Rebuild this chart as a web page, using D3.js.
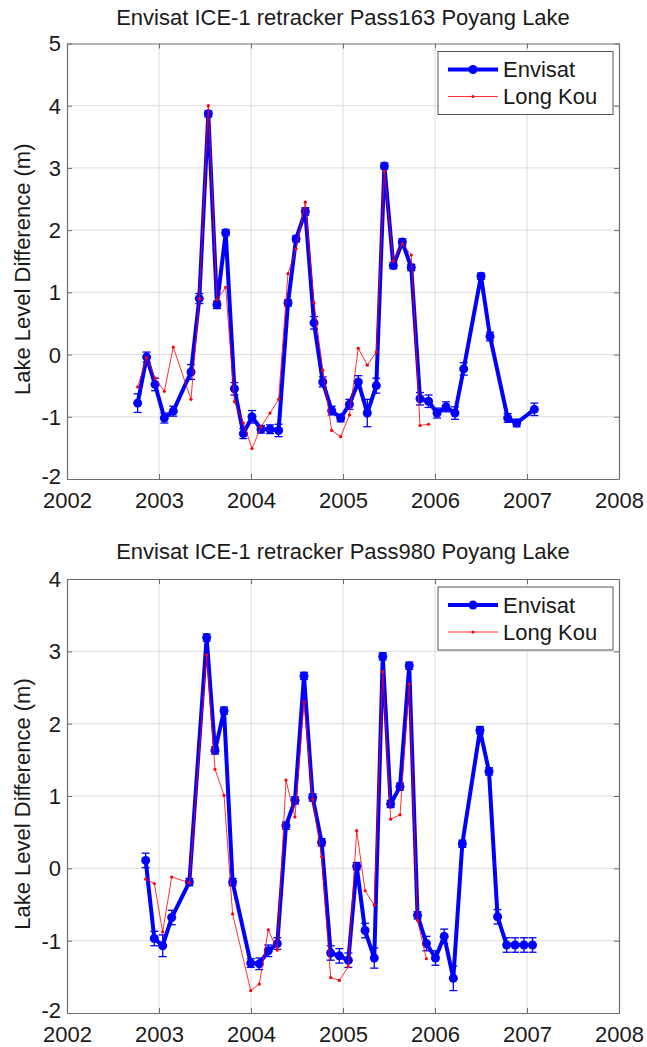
<!DOCTYPE html>
<html><head><meta charset="utf-8">
<script src="https://cdn.jsdelivr.net/npm/d3@7"></script>
<style>
body{margin:0;background:#fff;}
svg{display:block;font-family:"Liberation Sans",Arial,sans-serif;}
</style></head><body>
<svg id="c" width="647" height="1047"></svg>
<script>
// ---------- DATA ----------
const xTicks = [2002, 2003, 2004, 2005, 2006, 2007, 2008];

// Pass163
const title1 = "Envisat ICE-1 retracker Pass163 Poyang Lake";
const yTicks1 = [-2, -1, 0, 1, 2, 3, 4, 5];
const envTime1 = [2002.768, 2002.866, 2002.957, 2003.058, 2003.155, 2003.348, 2003.438, 2003.536, 2003.630, 2003.725,
  2003.820, 2003.917, 2004.011, 2004.109, 2004.207, 2004.300, 2004.402, 2004.490, 2004.590, 2004.685,
  2004.780, 2004.877, 2004.975, 2005.070, 2005.166, 2005.264, 2005.362, 2005.450, 2005.547, 2005.645,
  2005.742, 2005.837, 2005.930, 2006.022, 2006.120, 2006.217, 2006.312, 2006.500, 2006.598, 2006.790,
  2006.888, 2007.080];
const envVal1 = [-0.78, -0.04, -0.48, -1.02, -0.91, -0.28, 0.90, 3.87, 0.80, 1.96,
  -0.55, -1.27, -1.00, -1.20, -1.20, -1.22, 0.83, 1.86, 2.30, 0.51,
  -0.44, -0.90, -1.02, -0.80, -0.44, -0.94, -0.50, 3.03, 1.43, 1.81,
  1.40, -0.71, -0.75, -0.94, -0.84, -0.94, -0.23, 1.26, 0.29, -1.02,
  -1.10, -0.88];
const envErr1 = [0.15, 0.08, 0.10, 0.08, 0.08, 0.12, 0.08, 0.05, 0.06, 0.05,
  0.10, 0.08, 0.10, 0.06, 0.07, 0.10, 0.05, 0.05, 0.06, 0.10,
  0.08, 0.07, 0.06, 0.08, 0.10, 0.22, 0.12, 0.05, 0.05, 0.05,
  0.05, 0.10, 0.10, 0.08, 0.08, 0.10, 0.10, 0.05, 0.07, 0.07,
  0.06, 0.10];
const lkTime1 = envTime1.slice(0, 33);
const lkVal1 = [-0.52, -0.05, -0.38, -0.59, 0.12, -0.72, 0.90, 4.00, 0.88, 1.08,
  -0.76, -1.10, -1.51, -1.16, -0.94, -0.72, 1.30, 1.70, 2.45, 0.83,
  -0.25, -1.22, -1.32, -0.97, 0.10, -0.17, 0.04, 2.95, 1.50, 1.78,
  1.60, -1.14, -1.12];

// Pass980
const title2 = "Envisat ICE-1 retracker Pass980 Poyang Lake";
const yTicks2 = [-2, -1, 0, 1, 2, 3, 4];
const envTime2 = [2002.855, 2002.949, 2003.040, 2003.138, 2003.330, 2003.518, 2003.609, 2003.707, 2003.800, 2003.997,
  2004.090, 2004.188, 2004.286, 2004.380, 2004.478, 2004.576, 2004.670, 2004.768, 2004.866, 2004.960,
  2005.058, 2005.149, 2005.240, 2005.340, 2005.432, 2005.518, 2005.620, 2005.720, 2005.810, 2005.907,
  2006.005, 2006.100, 2006.199, 2006.297, 2006.489, 2006.587, 2006.680, 2006.779, 2006.870, 2006.967,
  2007.060];
const envVal2 = [0.11, -0.97, -1.07, -0.68, -0.19, 3.19, 1.63, 2.18, -0.19, -1.31,
  -1.32, -1.14, -1.04, 0.59, 0.94, 2.66, 0.98, 0.36, -1.17, -1.21,
  -1.27, 0.03, -0.86, -1.24, 2.93, 0.89, 1.13, 2.80, -0.65, -1.04,
  -1.24, -0.94, -1.52, 0.34, 1.91, 1.34, -0.67, -1.06, -1.06, -1.06,
  -1.06];
const envErr2 = [0.10, 0.10, 0.15, 0.10, 0.05, 0.05, 0.05, 0.05, 0.05, 0.06,
  0.08, 0.08, 0.08, 0.05, 0.05, 0.05, 0.05, 0.05, 0.10, 0.10,
  0.10, 0.05, 0.10, 0.14, 0.05, 0.05, 0.05, 0.05, 0.05, 0.10,
  0.10, 0.10, 0.17, 0.05, 0.05, 0.05, 0.10, 0.10, 0.10, 0.10,
  0.10];
const lkTime2 = envTime2.slice(0, 30);
const lkVal2 = [-0.15, -0.21, -0.88, -0.12, -0.20, 2.95, 1.37, 1.01, -0.63, -1.69,
  -1.60, -0.85, -1.13, 1.22, 0.71, 2.30, 0.95, 0.16, -1.51, -1.55,
  -1.36, 0.52, -0.31, -0.51, 2.72, 0.68, 0.74, 2.55, -0.72, -1.25];

const seriesNames = ["Envisat", "Long Kou"];
const yLabel = "Lake Level Difference (m)";

// ---------- DRAW ----------
const svg = d3.select("#c");
const BLUE = "#0000ff", RED = "#ff0000";
const FS = 22;

function panel(cfg) {
  const {top, bottom, left, right, yDomain, yTicks, title, titleY, et, ev, ee, lt, lv} = cfg;
  const x = d3.scaleLinear().domain([2002, 2008]).range([left, right]);
  const y = d3.scaleLinear().domain(yDomain).range([bottom, top]);
  const g = svg.append("g");

  // grid
  g.append("g").selectAll("line").data(xTicks.slice(1, -1)).join("line")
    .attr("x1", d => x(d)).attr("x2", d => x(d)).attr("y1", top).attr("y2", bottom)
    .attr("stroke", "#dcdcdc").attr("stroke-width", 1);
  g.append("g").selectAll("line").data(yTicks.slice(1, -1)).join("line")
    .attr("y1", d => y(d)).attr("y2", d => y(d)).attr("x1", left).attr("x2", right)
    .attr("stroke", "#dcdcdc").attr("stroke-width", 1);

  // axes (MATLAB style: ticks inside, on all four sides)
  const ax = g.append("g").attr("transform", `translate(0,${bottom})`)
    .call(d3.axisBottom(x).tickValues(xTicks).tickFormat(d => String(d)).tickSizeInner(-5).tickSizeOuter(0).tickPadding(9));
  const axT = g.append("g").attr("transform", `translate(0,${top})`)
    .call(d3.axisTop(x).tickValues(xTicks).tickFormat("").tickSizeInner(-5).tickSizeOuter(0));
  const ay = g.append("g").attr("transform", `translate(${left},0)`)
    .call(d3.axisLeft(y).tickValues(yTicks).tickFormat(d => String(d)).tickSizeInner(-5).tickSizeOuter(0).tickPadding(6));
  const ayR = g.append("g").attr("transform", `translate(${right},0)`)
    .call(d3.axisRight(y).tickValues(yTicks).tickFormat("").tickSizeInner(-5).tickSizeOuter(0));
  [ax, axT, ay, ayR].forEach(a => {
    a.select(".domain").attr("stroke", "#6e6e6e").attr("stroke-width", 1.2);
    a.selectAll(".tick line").attr("stroke", "#6e6e6e");
    a.selectAll("text").attr("font-size", FS).attr("fill", "#1a1a1a")
      .attr("font-family", "'Liberation Sans', Arial, sans-serif");
  });
  ax.selectAll("text").attr("dy", "0.92em");
  ay.selectAll("text").attr("dy", d => d === yDomain[0] ? "0.2em" : "0.34em");

  // title
  g.append("text").attr("x", (left + right) / 2).attr("y", titleY)
    .attr("text-anchor", "middle").attr("font-size", FS).attr("fill", "#1a1a1a").text(title);
  // y label
  g.append("text").attr("transform", `translate(30,${(top + bottom) / 2 + 8}) rotate(-90)`)
    .attr("text-anchor", "middle").attr("font-size", FS).attr("fill", "#1a1a1a").text(yLabel);

  const env = et.map((t, i) => ({t, v: ev[i], e: ee[i]}));
  const lk = lt.map((t, i) => ({t, v: lv[i]}));
  const line = d3.line().x(d => x(d.t)).y(d => y(d.v));

  // error bars
  const eb = g.append("g").attr("stroke", BLUE).attr("stroke-width", 1.3);
  eb.selectAll("line.v").data(env).join("line").attr("class", "v")
    .attr("x1", d => x(d.t)).attr("x2", d => x(d.t)).attr("y1", d => y(d.v - d.e)).attr("y2", d => y(d.v + d.e));
  eb.selectAll("line.lo").data(env).join("line").attr("class", "lo")
    .attr("x1", d => x(d.t) - 4).attr("x2", d => x(d.t) + 4).attr("y1", d => y(d.v - d.e)).attr("y2", d => y(d.v - d.e));
  eb.selectAll("line.hi").data(env).join("line").attr("class", "hi")
    .attr("x1", d => x(d.t) - 4).attr("x2", d => x(d.t) + 4).attr("y1", d => y(d.v + d.e)).attr("y2", d => y(d.v + d.e));

  // Envisat line
  g.append("path").datum(env).attr("d", line).attr("fill", "none")
    .attr("stroke", BLUE).attr("stroke-width", 4).attr("stroke-linejoin", "round");
  g.append("g").selectAll("circle").data(env).join("circle")
    .attr("cx", d => x(d.t)).attr("cy", d => y(d.v)).attr("r", 4.5).attr("fill", BLUE);

  // Long Kou line
  g.append("path").datum(lk).attr("d", line).attr("fill", "none")
    .attr("stroke", RED).attr("stroke-width", 1).attr("stroke-opacity", 0.8);
  g.append("g").selectAll("circle").data(lk).join("circle")
    .attr("cx", d => x(d.t)).attr("cy", d => y(d.v)).attr("r", 1.6).attr("fill", RED);

  // legend
  const lx = 438, ly = top + 8, lw = 175, lh = 63;
  const lg = g.append("g");
  lg.append("rect").attr("x", lx).attr("y", ly).attr("width", lw).attr("height", lh)
    .attr("fill", "#fff").attr("stroke", "#555").attr("stroke-width", 1);
  const rows = [ly + 18, ly + 45];
  lg.append("line").attr("x1", lx + 10).attr("x2", lx + 60).attr("y1", rows[0]).attr("y2", rows[0])
    .attr("stroke", BLUE).attr("stroke-width", 4);
  lg.append("circle").attr("cx", lx + 35).attr("cy", rows[0]).attr("r", 4.5).attr("fill", BLUE);
  lg.append("line").attr("x1", lx + 10).attr("x2", lx + 60).attr("y1", rows[1]).attr("y2", rows[1])
    .attr("stroke", RED).attr("stroke-width", 1).attr("stroke-opacity", 0.8);
  lg.append("circle").attr("cx", lx + 35).attr("cy", rows[1]).attr("r", 1.6).attr("fill", RED);
  seriesNames.forEach((n, i) => {
    lg.append("text").attr("x", lx + 65).attr("y", rows[i]).attr("dy", "0.36em")
      .attr("font-size", FS).attr("fill", "#1a1a1a").text(n);
  });
}

panel({top: 43.5, bottom: 479, left: 67, right: 619, yDomain: [-2, 5], yTicks: yTicks1, title: title1, titleY: 25,
  et: envTime1, ev: envVal1, ee: envErr1, lt: lkTime1, lv: lkVal1});
panel({top: 579, bottom: 1013, left: 67, right: 619, yDomain: [-2, 4], yTicks: yTicks2, title: title2, titleY: 559,
  et: envTime2, ev: envVal2, ee: envErr2, lt: lkTime2, lv: lkVal2});
</script>
</body></html>
